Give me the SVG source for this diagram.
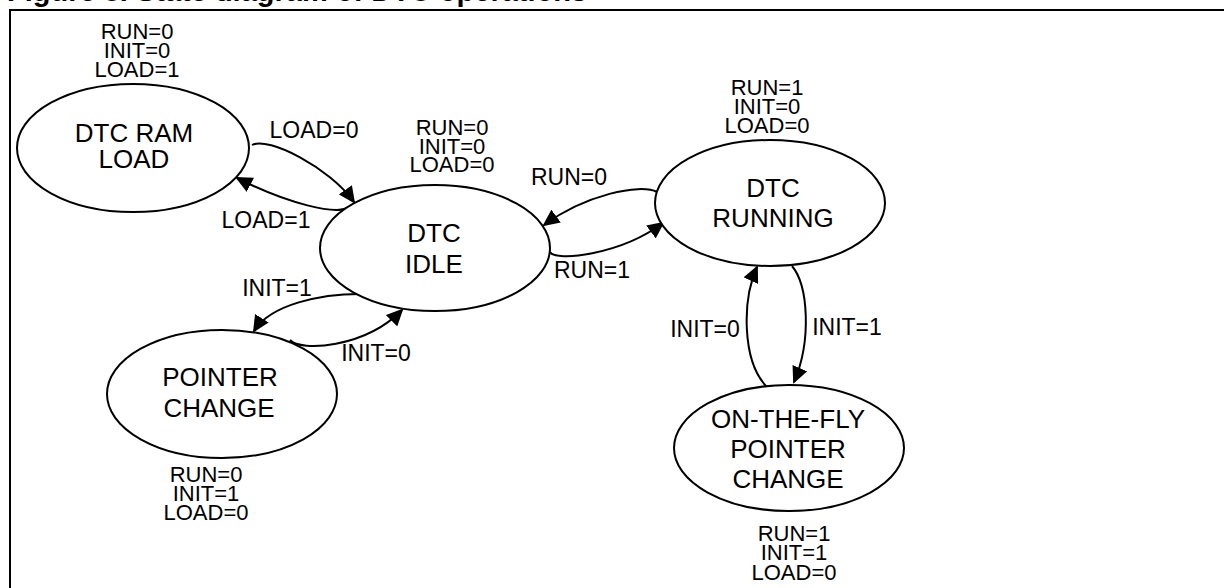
<svg xmlns="http://www.w3.org/2000/svg" width="1224" height="588" viewBox="0 0 1224 588">
<style>
text{font-family:"Liberation Sans",Arial,sans-serif;fill:#000;text-anchor:middle}
.node{font-size:26px}
.st{font-size:22px}
.lbl{font-size:23px}
.title{font-size:29px;font-weight:bold;text-anchor:start}
ellipse{fill:#fff;stroke:#000;stroke-width:2}
.edge{fill:none;stroke:#000;stroke-width:2;marker-end:url(#arr)}
</style>
<defs>
<marker id="arr" markerUnits="userSpaceOnUse" markerWidth="18" markerHeight="16" refX="15" refY="8" orient="auto">
<path d="M0,0 L17,8 L0,16 z" fill="#000"/>
</marker>
</defs>
<rect width="1224" height="588" fill="#fff"/>
<text class="title" x="7" y="1">Figure 8. State diagram of DTC operations</text>
<rect x="10" y="10" width="1240" height="600" fill="none" stroke="#000" stroke-width="2"/>

<g id="connectors">
<path class="edge" d="M252,145 C268,136 330,168 354,202"/>
<path class="edge" d="M347,208 C335,214 290,205 237,178"/>
<path class="edge" d="M657,192 C640,183 585,195 544,225"/>
<path class="edge" d="M550,252 C555,262 620,255 663,223"/>
<path class="edge" d="M366,294 C320,293 270,305 254,331"/>
<path class="edge" d="M290,340 C300,352 365,348 402,310"/>
<path class="edge" d="M766,386 C742,360 742,300 757,267"/>
<path class="edge" d="M792,266 C808,285 812,340 794,382"/>
<text class="lbl" x="314" y="138">LOAD=0</text>
<text class="lbl" x="266" y="228">LOAD=1</text>
<text class="lbl" x="569" y="185">RUN=0</text>
<text class="lbl" x="592" y="278">RUN=1</text>
<text class="lbl" x="277" y="296">INIT=1</text>
<text class="lbl" x="376" y="361">INIT=0</text>
<text class="lbl" x="705" y="337">INIT=0</text>
<text class="lbl" x="847" y="335">INIT=1</text>
</g>

<g id="ram-load">
<ellipse cx="133" cy="148" rx="116" ry="64"/>
<text class="node" x="134" y="142">DTC RAM</text>
<text class="node" x="134" y="168">LOAD</text>
<text class="st"><tspan x="137" y="39">RUN=0</tspan><tspan x="137" y="58">INIT=0</tspan><tspan x="137" y="77">LOAD=1</tspan></text>
</g>

<g id="idle">
<ellipse cx="435" cy="248" rx="115" ry="63"/>
<text class="node" x="434" y="242">DTC</text>
<text class="node" x="434" y="273">IDLE</text>
<text class="st"><tspan x="452" y="135">RUN=0</tspan><tspan x="452" y="153.5">INIT=0</tspan><tspan x="452" y="172">LOAD=0</tspan></text>
</g>

<g id="running">
<ellipse cx="770" cy="203" rx="115" ry="63"/>
<text class="node" x="773" y="197">DTC</text>
<text class="node" x="773" y="227">RUNNING</text>
<text class="st"><tspan x="767" y="95">RUN=1</tspan><tspan x="767" y="114">INIT=0</tspan><tspan x="767" y="133">LOAD=0</tspan></text>
</g>

<g id="pointer-change">
<ellipse cx="222" cy="394" rx="115" ry="64"/>
<text class="node" x="220" y="386">POINTER</text>
<text class="node" x="219" y="417">CHANGE</text>
<text class="st"><tspan x="206" y="482">RUN=0</tspan><tspan x="206" y="501">INIT=1</tspan><tspan x="206" y="520">LOAD=0</tspan></text>
</g>

<g id="otf-pointer-change">
<ellipse cx="789" cy="448" rx="115" ry="63"/>
<text class="node" x="788" y="428">ON-THE-FLY</text>
<text class="node" x="788" y="458">POINTER</text>
<text class="node" x="788" y="488">CHANGE</text>
<text class="st"><tspan x="794" y="541">RUN=1</tspan><tspan x="794" y="560">INIT=1</tspan><tspan x="794" y="579.5">LOAD=0</tspan></text>
</g>
</svg>
